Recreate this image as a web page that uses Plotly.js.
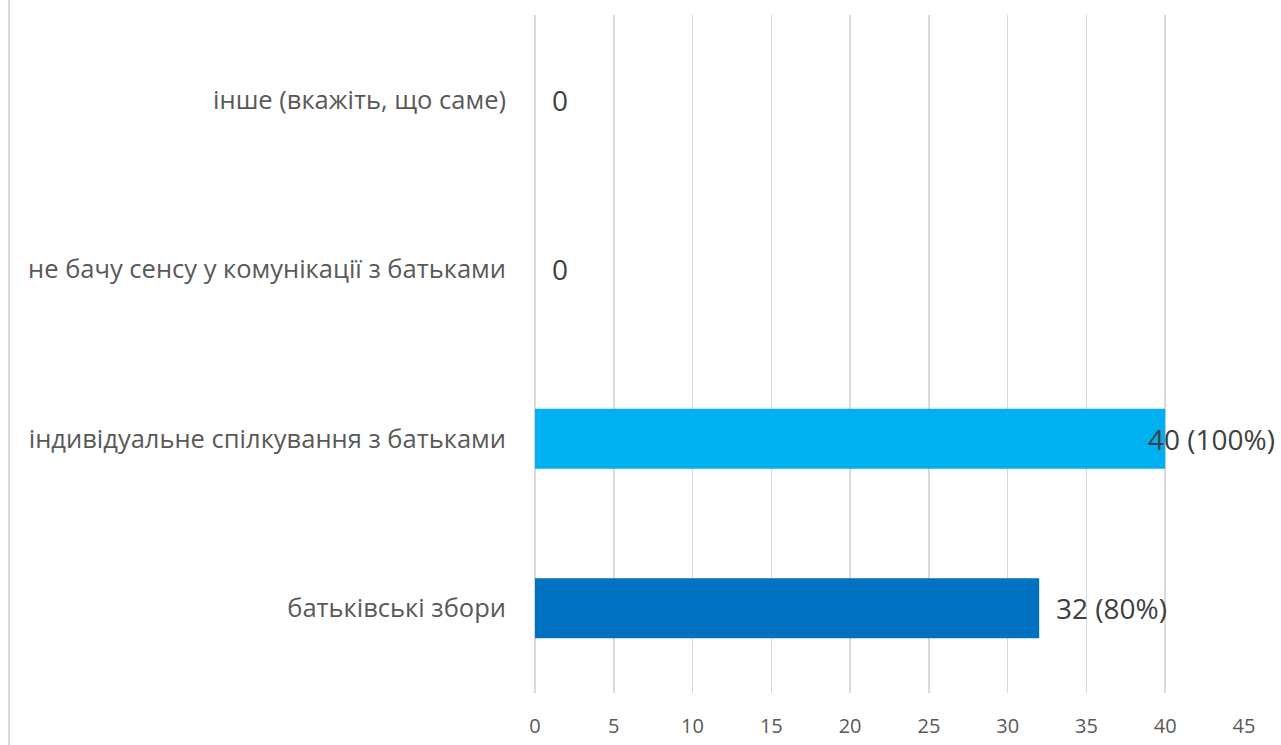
<!DOCTYPE html>
<html>
<head>
<meta charset="utf-8">
<script src="https://cdn.plot.ly/plotly-3.0.1.min.js"></script>
<style>
html,body{margin:0;padding:0;background:#fff;}
#chart{width:1281px;height:745px;}
</style>
</head>
<body>
<div id="chart"></div>
<script>
var categories = ["батьківські збори", "індивідуальне спілкування з батьками", "не бачу сенсу у комунікації з батьками", "інше (вкажіть, що саме)"];
var values = [32, 40, 0, 0];
var valueLabels = ["32 (80%)", "40 (100%)", "0", "0"];
var barColors = ["#0070C0", "#00B0F0", "#0070C0", "#0070C0"];
var xTicks = [0, 5, 10, 15, 20, 25, 30, 35, 40, 45];

var maxVal = Math.max.apply(null, values);
var annotations = categories.map(function (c, i) {
  var atEdge = values[i] === maxVal;
  return {
    x: values[i], y: c, xref: 'x', yref: 'y',
    text: valueLabels[i], showarrow: false,
    xanchor: 'left', yanchor: 'middle',
    xshift: atEdge ? -19 : 15,
    font: {family: 'Open Sans, sans-serif', size: 28, color: '#404040'}
  };
});

var trace = {
  type: 'bar', orientation: 'h',
  x: values, y: categories,
  marker: {color: barColors},
  hoverinfo: 'none'
};

var layout = {
  width: 1281, height: 745,
  margin: {l: 535, r: 37, t: 15, b: 52, pad: 0},
  paper_bgcolor: '#fff', plot_bgcolor: '#fff',
  bargap: 0.645,
  showlegend: false,
  font: {family: 'Open Sans, sans-serif', color: '#595959'},
  xaxis: {
    range: [0, 45], tickvals: xTicks, ticktext: xTicks.map(String),
    showgrid: true, gridcolor: '#d9d9d9', gridwidth: 1.5,
    zeroline: true, zerolinecolor: '#d9d9d9', zerolinewidth: 1.5,
    showline: false, ticks: '',
    tickfont: {size: 20, color: '#595959'},
    ticklabelstandoff: 19,
    fixedrange: true
  },
  yaxis: {
    type: 'category', categoryorder: 'array', categoryarray: categories,
    range: [-0.5, 3.5],
    showgrid: false, zeroline: false, showline: false, ticks: '',
    tickfont: {size: 25.5, color: '#595959'},
    ticklabelstandoff: 28,
    fixedrange: true
  },
  annotations: annotations,
  shapes: [{
    type: 'line', xref: 'paper', yref: 'paper',
    x0: -535/709 + 9/709, x1: -535/709 + 9/709, y0: -52/678, y1: 1 + 15/678,
    line: {color: '#d9d9d9', width: 2}
  }]
};

Plotly.newPlot('chart', [trace], layout, {displayModeBar: false, staticPlot: true});
</script>
</body>
</html>
